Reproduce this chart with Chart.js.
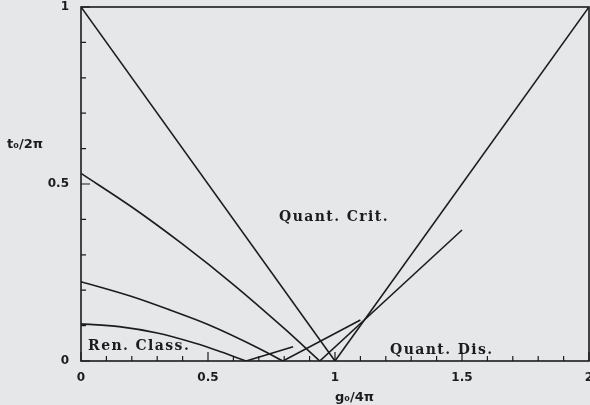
<!DOCTYPE html>
<html>
<head>
<meta charset="utf-8">
<script src="https://cdn.jsdelivr.net/npm/chart.js@4"></script>
<style>
  body { margin: 0; background: #e5e7e9; }
  #wrap { width: 590px; height: 405px; }
</style>
</head>
<body>
<div id="wrap"><canvas id="flowChart"></canvas></div>
<script>
// flow curves coming down to the g axis (g0/4pi, t0/2pi)
const highCurveX = [0, 0.2, 0.4, 0.6, 0.8, 0.94];
const highCurveY = [0.53, 0.435, 0.33, 0.216, 0.092, 0];
const midCurveX = [0, 0.2, 0.35, 0.5, 0.705, 0.795];
const midCurveY = [0.224, 0.182, 0.144, 0.103, 0.034, 0];
const lowCurveX = [0, 0.15, 0.3, 0.45, 0.55, 0.65];
const lowCurveY = [0.105, 0.097, 0.079, 0.05, 0.026, 0];

// straight pieces
const critDownX = [0, 1], critDownY = [1, 0];
const critUpX = [1, 2], critUpY = [0, 1];
const riseLowX = [0.65, 0.835], riseLowY = [0, 0.04];
const riseMidX = [0.795, 1.10], riseMidY = [0, 0.116];
const riseHighX = [0.94, 1.50], riseHighY = [0, 0.37];

const xMajor = [0, 0.5, 1, 1.5, 2];
const yMajor = [0, 0.5, 1];

// region names, placed at (g, t)
const regionNames = ['Quant. Crit.', 'Ren. Class.', 'Quant. Dis.'];
const regionX = [0.78, 0.028, 1.217];
const regionY = [0.406, 0.04, 0.031];

const ink = '#1c1c1c';

function pts(xs, ys) { return xs.map((x, i) => ({ x: x, y: ys[i] })); }
function isMajor(v, list) { return list.some(m => Math.abs(m - v) < 1e-6); }

function ds(xs, ys, curved) {
    return {
        data: pts(xs, ys),
        borderColor: ink,
        borderWidth: 1.6,
        pointRadius: 0,
        fill: false,
        cubicInterpolationMode: curved ? 'monotone' : 'default',
        tension: 0
    };
}

// frame, inward ticks and text
const framePlugin = {
    id: 'framePlugin',
    beforeDraw(chart) {
        const c = chart.ctx;
        c.save();
        c.fillStyle = '#e5e7e9';
        c.fillRect(0, 0, chart.width, chart.height);
        c.restore();
    },
    afterDatasetsDraw(chart) {
        const c = chart.ctx, a = chart.chartArea;
        const xs = chart.scales.x, ys = chart.scales.y;
        c.save();
        c.strokeStyle = ink;
        c.lineWidth = 1.6;
        c.strokeRect(a.left, a.top, a.right - a.left, a.bottom - a.top);

        c.lineWidth = 1.2;
        c.beginPath();
        xs.ticks.forEach(t => {
            const px = xs.getPixelForValue(t.value);
            const len = isMajor(t.value, xMajor) ? 9 : 5;
            c.moveTo(px, a.bottom);
            c.lineTo(px, a.bottom - len);
        });
        ys.ticks.forEach(t => {
            const py = ys.getPixelForValue(t.value);
            const len = isMajor(t.value, yMajor) ? 9 : 5;
            c.moveTo(a.left, py);
            c.lineTo(a.left + len, py);
        });
        c.stroke();

        c.fillStyle = ink;
        c.textBaseline = 'middle';
        c.textAlign = 'left';
        c.font = 'bold 14px "DejaVu Serif"';
        c.letterSpacing = '1.4px';
        regionNames.forEach((name, i) => {
            c.fillText(name, xs.getPixelForValue(regionX[i]), ys.getPixelForValue(regionY[i]));
        });

        c.letterSpacing = '0px';
        c.font = 'bold 13px "DejaVu Sans"';
        c.fillText('t\u2080/2\u03c0', 7, 145);
        c.fillText('g\u2080/4\u03c0', 335, 398);
        c.restore();
    }
};

new Chart(document.getElementById('flowChart'), {
    type: 'line',
    data: {
        datasets: [
            ds(critDownX, critDownY, false),
            ds(critUpX, critUpY, false),
            ds(highCurveX, highCurveY, true),
            ds(midCurveX, midCurveY, true),
            ds(lowCurveX, lowCurveY, true),
            ds(riseLowX, riseLowY, false),
            ds(riseMidX, riseMidY, false),
            ds(riseHighX, riseHighY, false)
        ]
    },
    options: {
        responsive: true,
        maintainAspectRatio: false,
        animation: false,
        layout: { padding: { top: 7, right: 1, left: 0, bottom: 0 } },
        plugins: { legend: { display: false }, tooltip: { enabled: false } },
        scales: {
            x: {
                type: 'linear', min: 0, max: 2,
                grid: { display: false, drawTicks: false },
                border: { display: false },
                ticks: {
                    stepSize: 0.1, autoSkip: false, maxRotation: 0, padding: 10,
                    color: ink, font: { family: 'DejaVu Sans', size: 12, weight: 'bold' },
                    callback: v => isMajor(v, xMajor) ? String(Math.round(v * 10) / 10) : ''
                },
                afterFit(s) { s.height = 44; s.paddingLeft = 0; s.paddingRight = 0; }
            },
            y: {
                type: 'linear', min: 0, max: 1,
                grid: { display: false, drawTicks: false },
                border: { display: false },
                ticks: {
                    stepSize: 0.1, autoSkip: false, padding: 12,
                    color: ink, font: { family: 'DejaVu Sans', size: 12, weight: 'bold' },
                    callback: v => isMajor(v, yMajor) ? String(Math.round(v * 10) / 10) : ''
                },
                afterFit(s) { s.width = 81; s.paddingTop = 0; s.paddingBottom = 0; }
            }
        }
    },
    plugins: [framePlugin]
});
</script>
</body>
</html>
